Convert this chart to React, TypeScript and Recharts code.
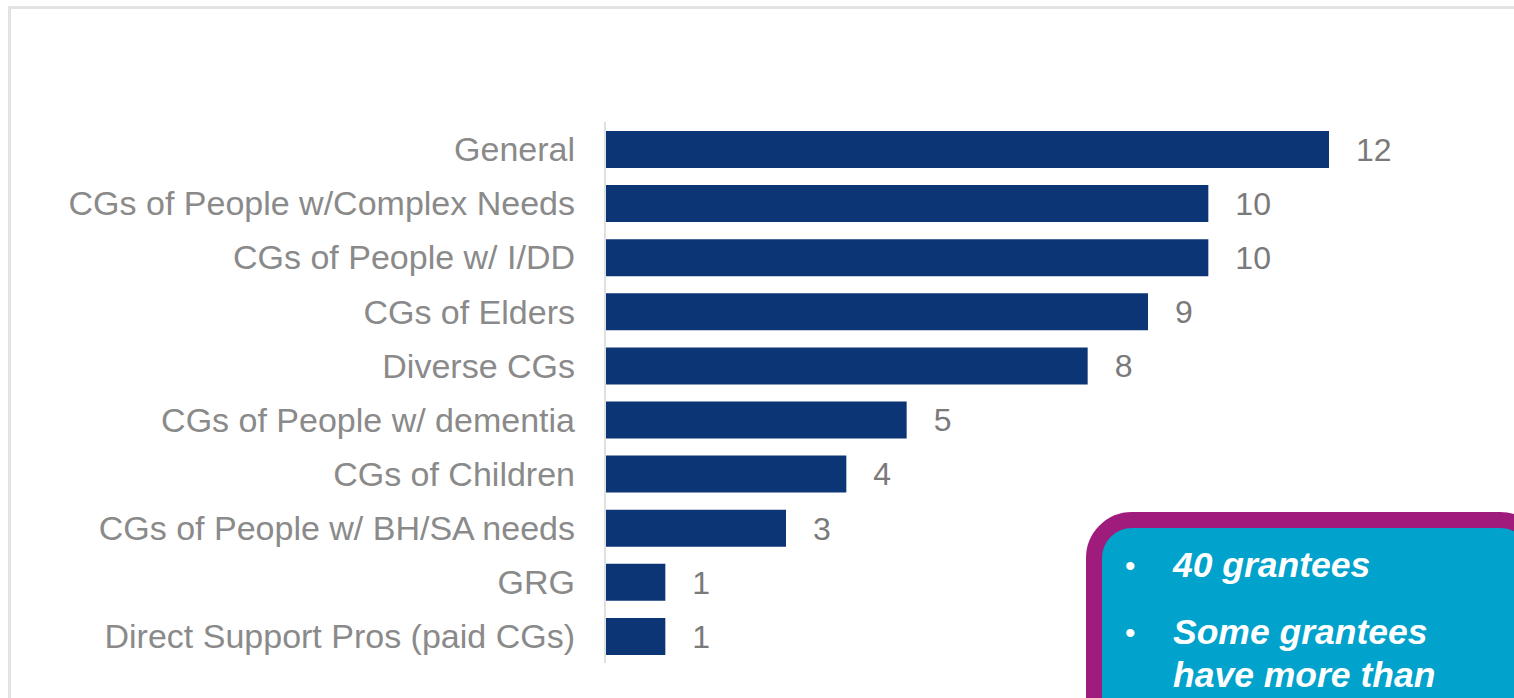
import React from 'react';
import { BarChart, Bar, XAxis, YAxis, LabelList } from 'recharts';

// caregiver population categories, top to bottom
const categories = [
  'General',
  'CGs of People w/Complex Needs',
  'CGs of People w/ I/DD',
  'CGs of Elders',
  'Diverse CGs',
  'CGs of People w/ dementia',
  'CGs of Children',
  'CGs of People w/ BH/SA needs',
  'GRG',
  'Direct Support Pros (paid CGs)',
];

const grantees = [12, 10, 10, 9, 8, 5, 4, 3, 1, 1];

const xDomain: [number, number] = [0, 15];

// callout bullets (the box runs off the slide edge)
const notes = [['40 grantees'], ['Some grantees', 'have more than']];

const data = categories.map((name, i) => ({ name, value: grantees[i] }));

const FONT = '"Liberation Sans", Arial, Helvetica, sans-serif';
const NAVY = '#0c3576';

function CategoryTick(props: any) {
  const { x, y, payload } = props;
  return (
    <text
      x={x}
      y={y}
      dy="0.36em"
      textAnchor="end"
      fontSize={34}
      fill="#8a8a8a"
      fontFamily={FONT}
    >
      {payload.value}
    </text>
  );
}

export default function App() {
  return (
    <div
      style={{
        position: 'fixed',
        left: 0,
        top: 0,
        width: 1514,
        height: 698,
        overflow: 'hidden',
        background: '#fff',
      }}
    >
      {/* slide frame */}
      <div
        style={{
          position: 'absolute',
          left: 8,
          top: 6,
          width: 1530,
          height: 720,
          borderTop: '3px solid #e3e3e3',
          borderLeft: '3px solid #e3e3e3',
        }}
      />
      <div style={{ position: 'absolute', left: 0, top: 0 }}>
        <BarChart
          width={1514}
          height={698}
          layout="vertical"
          data={data}
          margin={{ top: 122, right: 4, bottom: 35, left: 0 }}
        >
          <XAxis type="number" domain={xDomain} hide />
          <YAxis
            type="category"
            dataKey="name"
            width={605}
            axisLine={{ stroke: '#e0e0e0', strokeWidth: 2 }}
            tickLine={false}
            tickSize={0}
            tickMargin={30}
            tick={<CategoryTick />}
            interval={0}
          />
          <Bar dataKey="value" fill={NAVY} barSize={37} isAnimationActive={false}>
            <LabelList
              dataKey="value"
              position="right"
              offset={27}
              fill="#7a7a7a"
              fontSize={32}
              fontFamily={FONT}
            />
          </Bar>
        </BarChart>
      </div>
      {/* callout box */}
      <div
        style={{
          position: 'absolute',
          left: 1086,
          top: 512,
          width: 460,
          height: 260,
          boxSizing: 'border-box',
          border: '16px solid #a01c7c',
          borderRadius: 46,
          background: '#01a2cb',
          color: '#fff',
          fontFamily: FONT,
          fontWeight: 700,
          fontStyle: 'italic',
          fontSize: 35.5,
          lineHeight: '43px',
          padding: '16px 0 0 0',
        }}
      >
        {notes.map((lines, i) => (
          <div key={i} style={{ display: 'flex', marginBottom: 24 }}>
            <span
              style={{
                width: 71,
                paddingLeft: 23,
                boxSizing: 'border-box',
                fontStyle: 'normal',
                fontWeight: 400,
                fontSize: 30,
              }}
            >
              •
            </span>
            <span>
              {lines.map((l) => (
                <div key={l}>{l}</div>
              ))}
            </span>
          </div>
        ))}
      </div>
    </div>
  );
}
